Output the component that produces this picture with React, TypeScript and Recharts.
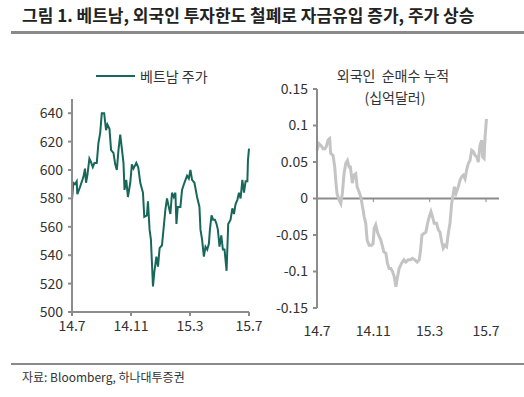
import React from "react";
import { LineChart, Line, XAxis, YAxis, ReferenceLine } from "recharts";

const TICK_MONTHS = [0, 4, 8, 12];
const TICK_LABELS = ["14.7", "14.11", "15.3", "15.7"];

const vnMonths = [
  0.00,0.09,0.20,0.32,0.36,0.54,0.77,0.88,0.95,1.04,
  1.18,1.27,1.41,1.52,1.68,1.79,1.91,2.02,2.18,2.31,
  2.40,2.54,2.65,2.81,2.93,3.04,3.15,3.27,3.38,3.49,
  3.56,3.68,3.79,3.95,4.06,4.17,4.36,4.49,4.63,4.81,
  4.90,5.08,5.15,5.26,5.35,5.49,5.58,5.72,5.83,5.94,
  6.10,6.22,6.33,6.44,6.56,6.67,6.78,6.90,7.01,7.08,
  7.17,7.35,7.46,7.62,7.80,7.92,8.03,8.14,8.30,8.48,
  8.64,8.71,8.82,8.94,9.05,9.17,9.28,9.35,9.46,9.57,
  9.69,9.80,9.89,10.00,10.12,10.23,10.34,10.48,10.59,10.75,
  10.87,10.98,11.09,11.21,11.32,11.43,11.55,11.66,11.77,11.89,
  11.93,12.00,
];
const vnIndex = [
  579,591,590,592,583,588,595,601,591,596,
  608,606,602,605,605,619,626,640,640,628,
  632,629,614,612,604,600,614,625,615,605,
  586,593,581,591,604,601,605,602,591,584,
  567,568,578,558,551,518,528,539,532,545,
  547,560,572,580,574,569,584,581,584,562,
  574,574,586,591,596,594,600,593,591,581,
  574,558,551,539,546,544,548,558,568,565,
  565,562,558,546,554,544,544,529,562,565,
  573,569,576,579,584,580,593,584,592,592,
  607,615,
];

const flowMonths = [
  0.00,0.14,0.31,0.43,0.55,0.66,0.78,0.90,0.97,1.14,
  1.26,1.33,1.42,1.57,1.69,1.80,1.92,2.04,2.16,2.28,
  2.37,2.51,2.61,2.75,2.85,2.99,3.11,3.23,3.35,3.46,
  3.56,3.70,3.87,3.98,4.06,4.17,4.29,4.41,4.53,4.65,
  4.74,4.89,5.00,5.12,5.24,5.36,5.48,5.60,5.72,5.83,
  6.00,6.17,6.31,6.47,6.64,6.78,6.95,7.11,7.26,7.35,
  7.45,7.59,7.73,7.85,7.97,8.09,8.20,8.32,8.49,8.61,
  8.73,8.85,8.96,9.08,9.20,9.32,9.44,9.56,9.68,9.75,
  9.87,10.03,10.15,10.27,10.39,10.51,10.62,10.74,10.86,10.98,
  11.10,11.22,11.34,11.45,11.57,11.69,11.76,11.86,11.93,12.03,
];
const flowCum = [
  0.066,0.075,0.072,0.068,0.068,0.071,0.080,0.082,0.062,0.059,
  0.043,0.025,0.007,-0.002,-0.007,0.007,0.034,0.048,0.052,0.043,
  0.043,0.021,0.032,0.034,0.016,0.009,0.002,-0.011,-0.025,-0.034,
  -0.057,-0.064,-0.064,-0.062,-0.041,-0.036,-0.046,-0.052,-0.057,-0.066,
  -0.073,-0.075,-0.089,-0.096,-0.096,-0.100,-0.107,-0.121,-0.107,-0.096,
  -0.089,-0.084,-0.087,-0.084,-0.084,-0.082,-0.084,-0.087,-0.084,-0.071,
  -0.050,-0.048,-0.046,-0.034,-0.025,-0.018,-0.025,-0.034,-0.034,-0.043,
  -0.046,-0.059,-0.068,-0.064,-0.066,-0.048,-0.034,-0.007,0.007,0.016,
  0.007,0.016,0.025,0.030,0.032,0.027,0.039,0.048,0.052,0.066,
  0.064,0.059,0.057,0.050,0.073,0.080,0.057,0.055,0.084,0.109,
];

const VN_TICKS = [500, 520, 540, 560, 580, 600, 620, 640];
const FLOW_TICKS = [-0.15, -0.1, -0.05, 0, 0.05, 0.1, 0.15];
const FLOW_TICK_LABELS = ["-0.15", "-0.1", "-0.05", "0", "0.05", "0.1", "0.15"];

const vnData = vnMonths.map((m, i) => ({ m, v: vnIndex[i] }));
const flowData = flowMonths.map((m, i) => ({ m, v: flowCum[i] }));

const FONT = "'Noto Sans CJK KR', 'Noto Sans', sans-serif";
const AXIS = "#8c8c8c";
const TXT = "#333333";
const tickStyle = { fontSize: 14, fill: TXT, fontFamily: FONT };
const monthLabel = (v: number) => TICK_LABELS[TICK_MONTHS.indexOf(v)] ?? "";

export default function App() {
  return (
    <div style={{ position: "absolute", left: 0, top: 0, width: 524, height: 397, background: "#fff", fontFamily: FONT, overflow: "hidden" }}>
      <div style={{ position: "absolute", left: 22, top: 4, fontSize: 17, fontWeight: 700, color: "#222", whiteSpace: "nowrap", lineHeight: "22px" }}>
        그림 1. 베트남, 외국인 투자한도 철폐로 자금유입 증가, 주가 상승
      </div>
      <div style={{ position: "absolute", left: 11, top: 31, width: 513, height: 3, background: "#8a8a8a" }} />

      {/* legend left */}
      <div style={{ position: "absolute", left: 96, top: 75, width: 39, height: 2, background: "#17675a" }} />
      <div style={{ position: "absolute", left: 140, top: 66, fontSize: 14, color: TXT, lineHeight: "20px", whiteSpace: "nowrap" }}>베트남 주가</div>

      {/* right titles */}
      <div style={{ position: "absolute", left: 293, width: 200, top: 65, fontSize: 14, color: TXT, lineHeight: "20px", textAlign: "center", whiteSpace: "pre" }}>외국인  순매수 누적</div>
      <div style={{ position: "absolute", left: 295, width: 200, top: 87, fontSize: 14, color: TXT, lineHeight: "20px", textAlign: "center" }}>(십억달러)</div>

      <div style={{ position: "absolute", left: 0, top: 0 }}>
        <LineChart width={266} height={345} data={vnData} margin={{ top: 99, right: 17, bottom: 3, left: 0 }} style={{ overflow: "visible" }}>
          <XAxis dataKey="m" type="number" domain={[0, 12]} ticks={TICK_MONTHS} tickFormatter={monthLabel} height={30}
            stroke={AXIS} strokeWidth={2} tickSize={4} tickMargin={5} tick={tickStyle} interval={0} />
          <YAxis type="number" domain={[500, 650]} ticks={VN_TICKS} width={72} stroke={AXIS} strokeWidth={2}
            tickSize={4} tickMargin={5} tick={tickStyle} interval={0} />
          <Line type="linear" dataKey="v" stroke="#17675a" strokeWidth={2} dot={false} isAnimationActive={false} />
        </LineChart>
      </div>

      <div style={{ position: "absolute", left: 260, top: 0 }}>
        <LineChart width={264} height={345} data={flowData} margin={{ top: 89, right: 25, bottom: 7, left: 0 }} style={{ overflow: "visible" }}>
          <XAxis dataKey="m" type="number" domain={[0, 12.92]} ticks={TICK_MONTHS} tickFormatter={monthLabel} height={30}
            axisLine={false} tickLine={false} tickMargin={12} tick={tickStyle} interval={0} />
          <YAxis type="number" domain={[-0.15, 0.15]} ticks={FLOW_TICKS} width={57} stroke={AXIS} strokeWidth={2}
            tickSize={4} tickMargin={5} tick={tickStyle} interval={0}
            tickFormatter={(v: number) => FLOW_TICK_LABELS[FLOW_TICKS.indexOf(v)] ?? String(v)} />
          <ReferenceLine y={0} stroke={AXIS} strokeWidth={2} />
          {TICK_MONTHS.slice(1).map((t) => (
            <ReferenceLine key={t} segment={[{ x: t, y: 0 }, { x: t, y: -0.005 }]} stroke={AXIS} strokeWidth={1} />
          ))}
          <Line type="linear" dataKey="v" stroke="#c4c4c4" strokeWidth={3} dot={false} isAnimationActive={false} />
        </LineChart>
      </div>

      <div style={{ position: "absolute", left: 11, top: 363, width: 513, height: 2, background: "#8a8a8a" }} />
      <div style={{ position: "absolute", left: 22, top: 368, fontSize: 12, color: TXT, lineHeight: "18px", whiteSpace: "nowrap" }}>자료: Bloomberg, 하나대투증권</div>
    </div>
  );
}
